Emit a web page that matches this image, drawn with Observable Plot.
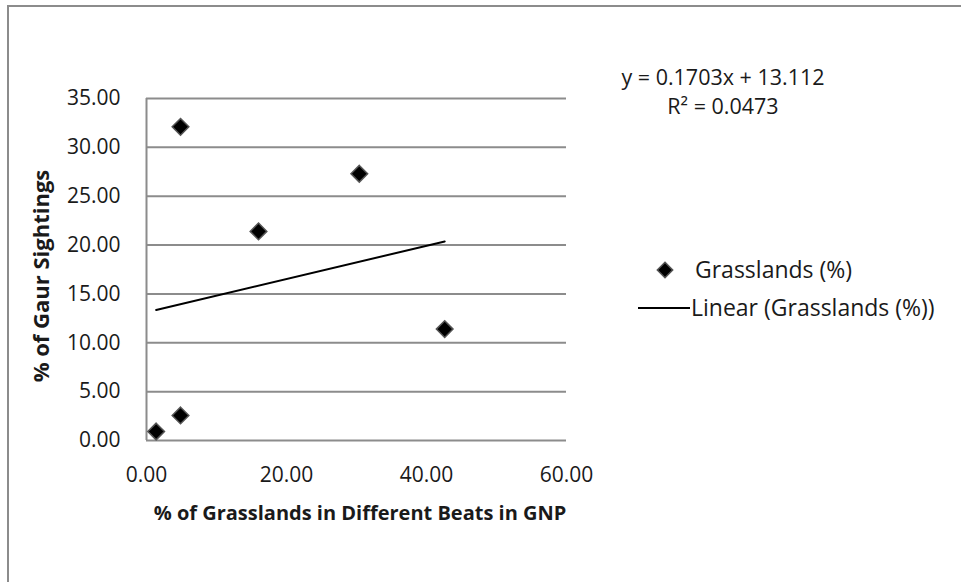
<!DOCTYPE html>
<html>
<head>
<meta charset="utf-8">
<script src="https://cdn.jsdelivr.net/npm/d3@7"></script>
<script src="https://cdn.jsdelivr.net/npm/@observablehq/plot@0.6"></script>
<style>
  html, body { margin: 0; padding: 0; background: #fff; }
  #chart { width: 961px; height: 582px; overflow: hidden; }
</style>
</head>
<body>
<div id="chart"></div>
<script>
// Data
const grassX = [4.86, 16.0, 30.4, 42.6, 4.86, 1.38];
const sightY = [32.1, 21.4, 27.3, 11.4, 2.56, 0.92];
// Linear trendline endpoints (y = 0.1703x + 13.112 over data x-range)
const trendX = [1.38, 42.6];
const trendY = [13.35, 20.37];
const yTicks = [0, 5, 10, 15, 20, 25, 30, 35];
const xTicks = [0, 20, 40, 60];
const equationText = "y = 0.1703x + 13.112";
const r2Text = "R² = 0.0473";
const legendLabels = ["Grasslands (%)", "Linear (Grasslands (%))"];

const points = grassX.map((x, i) => ({x, y: sightY[i]}));
const trend = trendX.map((x, i) => ({x, y: trendY[i]}));

const FONT = "Open Sans, sans-serif";
const TXT = "#1a1a1a";
const W = 961, H = 582;
const mL = 146, mR = W - 566, mT = 98, mB = H - 440;

const chart = Plot.plot({
  width: W,
  height: H,
  marginLeft: mL,
  marginRight: mR,
  marginTop: mT,
  marginBottom: mB,
  style: {fontFamily: FONT, fontSize: "21px", color: TXT, background: "#fff"},
  x: {domain: [0, 60], label: null},
  y: {domain: [0, 35], label: null},
  marks: [
    Plot.gridY(yTicks, {stroke: "#8c8c8c", strokeOpacity: 1, strokeWidth: 2}),
    Plot.ruleX([0], {stroke: "#8c8c8c", strokeWidth: 2}),
    Plot.axisX({ticks: xTicks, tickFormat: d3.format(".2f"), tickSize: 0, tickPadding: 27, fontSize: 21, label: null}),
    Plot.axisY({ticks: yTicks, tickFormat: d3.format(".2f"), tickSize: 0, tickPadding: 26, fontSize: 21, label: null}),
    Plot.line(trend, {x: "x", y: "y", stroke: "#000", strokeWidth: 2}),
    Plot.dot(points, {x: "x", y: "y", symbol: "diamond2", r: 7.5, fill: "#000", stroke: "#555", strokeWidth: 1.5})
  ]
});

const svg = d3.select(chart);
// outer chart-area border
svg.insert("rect", ":first-child")
  .attr("x", 8).attr("y", 6).attr("width", W + 20).attr("height", H + 20)
  .attr("fill", "#fff").attr("stroke", "#8c8c8c").attr("stroke-width", 2);

// axis titles
svg.append("text")
  .attr("x", 360).attr("y", 520)
  .attr("text-anchor", "middle")
  .attr("font-family", FONT).attr("font-weight", "bold").attr("font-size", 20)
  .attr("fill", TXT)
  .text("% of Grasslands in Different Beats in GNP");
svg.append("text")
  .attr("transform", "translate(49,276) rotate(-90)")
  .attr("text-anchor", "middle")
  .attr("font-family", FONT).attr("font-weight", "bold").attr("font-size", 22)
  .attr("fill", TXT)
  .text("% of Gaur Sightings");

// equation
svg.append("text")
  .attr("x", 723).attr("y", 77).attr("dy", "0.35em")
  .attr("text-anchor", "middle")
  .attr("font-family", FONT).attr("font-size", 21.5).attr("fill", TXT)
  .text(equationText);
svg.append("text")
  .attr("x", 723).attr("y", 106).attr("dy", "0.35em")
  .attr("text-anchor", "middle")
  .attr("font-family", FONT).attr("font-size", 21.5).attr("fill", TXT)
  .text(r2Text);

// legend
const leg = svg.append("g").attr("font-family", FONT).attr("font-size", 23).attr("fill", TXT).attr("text-anchor", "start");
leg.append("path")
  .attr("d", d3.symbol(d3.symbolDiamond2, 150)())
  .attr("transform", "translate(665,270)")
  .attr("fill", "#000").attr("stroke", "#555").attr("stroke-width", 1.5);
leg.append("text").attr("x", 695).attr("y", 270).attr("dy", "0.35em").text(legendLabels[0]);
leg.append("line").attr("x1", 638).attr("x2", 690).attr("y1", 308).attr("y2", 308)
  .attr("stroke", "#000").attr("stroke-width", 2);
leg.append("text").attr("x", 691).attr("y", 308).attr("dy", "0.35em").text(legendLabels[1]);

document.getElementById("chart").appendChild(chart);
</script>
</body>
</html>
